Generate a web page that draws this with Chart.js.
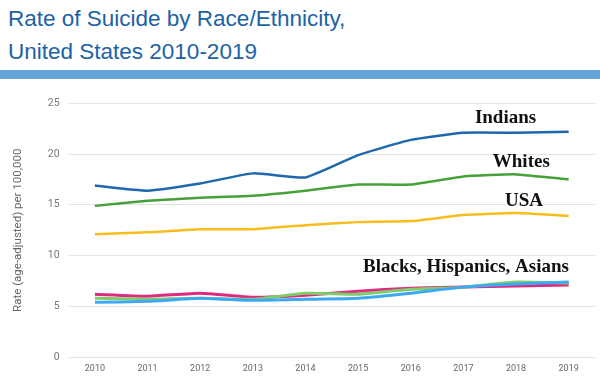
<!DOCTYPE html>
<html>
<head>
<meta charset="utf-8">
<script src="https://cdn.jsdelivr.net/npm/chart.js@4"></script>
<style>
  body { margin: 0; width: 600px; height: 382px; background: #fff; overflow: hidden; position: relative; font-family: "Liberation Sans", Arial, sans-serif; }
  #title { position: absolute; left: 8px; top: 2px; color: #1c62a4; font-size: 22.5px; line-height: 33px; }
  #bar { position: absolute; left: 0; top: 70px; width: 600px; height: 9px; background: #66a3d6; }
  #wrap { position: absolute; left: 0; top: 88px; width: 600px; height: 294px; }
</style>
</head>
<body>
<div id="title">Rate of Suicide by Race/Ethnicity,<br>United States 2010-2019</div>
<div id="bar"></div>
<div id="wrap"><canvas id="chart"></canvas></div>
<script>
const years = ['2010','2011','2012','2013','2014','2015','2016','2017','2018','2019'];
const yTicks = [0, 5, 10, 15, 20, 25];

const indians   = [16.9, 16.4, 17.1, 18.1, 17.7, 19.9, 21.4, 22.1, 22.1, 22.2];
const whites    = [14.9, 15.4, 15.7, 15.9, 16.4, 17.0, 17.0, 17.8, 18.0, 17.5];
const usa       = [12.1, 12.3, 12.6, 12.6, 13.0, 13.3, 13.4, 14.0, 14.2, 13.9];
const blacks    = [6.2, 6.0, 6.3, 5.9, 6.1, 6.5, 6.8, 6.9, 7.0, 7.1];
const hispanics = [5.8, 5.7, 5.8, 5.7, 6.3, 6.2, 6.7, 6.9, 7.4, 7.3];
const asians    = [5.4, 5.5, 5.8, 5.6, 5.7, 5.8, 6.3, 6.9, 7.2, 7.4];

// text labels placed on the chart: [text, category position, value]
const notes = [
  ['Indians', 7.8, 23.5],
  ['Whites', 8.1, 19.2],
  ['USA', 8.15, 15.4],
  ['Blacks, Hispanics, Asians', 7.05, 8.9]
];

const notePlugin = {
  id: 'notes',
  afterDatasetsDraw(chart) {
    const c = chart.ctx;
    const xs = chart.scales.x, ys = chart.scales.y;
    c.save();
    c.font = 'bold 19px "Liberation Serif", "Times New Roman", serif';
    c.fillStyle = '#111';
    c.textAlign = 'center';
    c.textBaseline = 'middle';
    notes.forEach(n => {
      c.fillText(n[0], xs.getPixelForValue(n[1]), ys.getPixelForValue(n[2]));
    });
    c.restore();
  }
};

function line(label, data, color, width) {
  return {
    label: label,
    data: data,
    borderColor: color,
    backgroundColor: color,
    borderWidth: width,
    pointRadius: 0,
    tension: 0.15
  };
}

const ctx = document.getElementById('chart').getContext('2d');
const myChart = new Chart(ctx, {
  type: 'line',
  data: {
    labels: years,
    datasets: [
      line('Asians', asians, '#3ea8f2', 3),
      line('Hispanics', hispanics, '#7fcc6c', 3),
      line('Blacks', blacks, '#de2a80', 3),
      line('USA', usa, '#f7bd1d', 2.5),
      line('Whites', whites, '#46a13a', 2.5),
      line('Indians', indians, '#1f68ad', 2.5)
    ]
  },
  options: {
    responsive: true,
    maintainAspectRatio: false,
    animation: false,
    layout: { padding: { left: 7, right: 5, top: 4, bottom: 2 } },
    plugins: {
      legend: { display: false },
      tooltip: { enabled: false }
    },
    scales: {
      x: {
        offset: true,
        grid: { display: false, drawTicks: false },
        border: { display: false },
        ticks: { color: '#666', font: { family: 'Roboto', size: 9 }, padding: 6, maxRotation: 0 }
      },
      y: {
        min: 0,
        max: 25,
        afterBuildTicks: function(axis) {
          axis.ticks = yTicks.map(v => ({ value: v }));
        },
        grid: { color: '#e3e3e3', drawTicks: false },
        border: { display: false },
        ticks: { color: '#777', font: { family: 'Roboto', size: 10.5 }, padding: 9 },
        title: {
          display: true,
          text: 'Rate (age-adjusted) per 100,000',
          color: '#666',
          font: { family: 'Roboto', size: 11.5 },
          padding: { bottom: 14 }
        }
      }
    }
  },
  plugins: [notePlugin]
});
</script>
</body>
</html>
